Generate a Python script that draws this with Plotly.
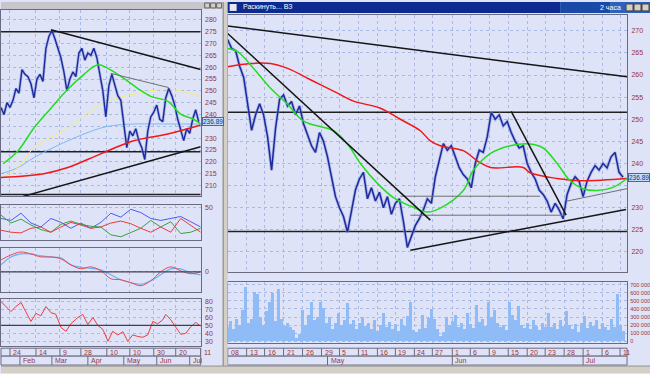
import numpy as np
import plotly.graph_objects as go

W, H = 650, 374

# ---------------- data ----------------
# Left window (daily): close prices sampled per bar slot
left_price = [243, 240, 245, 243, 246, 251, 249, 259, 257, 256, 253, 247, 255, 257, 254, 268, 273,
              275.5, 272, 268, 264, 258, 250, 255, 258, 256, 266, 268, 263, 266, 265, 268, 264, 257,
              250, 239, 252, 257, 252, 248, 246, 236, 226, 233, 231, 234, 229, 226, 221, 233, 239,
              241, 244, 238, 237, 247, 251, 248, 244, 238, 233, 229, 234, 232, 238, 242, 236.9]
left_green_x = [0.7, 5.7, 11, 16.7, 22.3, 27.7, 31, 32.7, 35.7, 41, 45.7, 50, 55.7, 60, 64.3, 66.7]
left_green = [219.2, 224.7, 234.3, 242.7, 250.7, 257, 260.3, 261, 259.5, 255.3, 251, 247.7, 245.6, 240.2, 238, 236]
left_slow_x = [0, 5.7, 11, 22.3, 33.3, 39, 44.3, 55.7, 66.7]
left_yellow = [213, 217.6, 226, 234.3, 244.3, 247, 248.6, 250.7, 247.7]
left_lblue = [215, 217.6, 221.8, 228.9, 234.3, 235.6, 236, 236, 236]
left_red_x = [0, 14.3, 22.3, 33.3, 44.3, 55.7, 66.7]
left_red = [213.4, 215, 217.6, 223.4, 228.9, 231.8, 235.6]
left_levels = [275.0, 224.3, 206.2]
left_trend_black = [((16.67, 275.8), (66.67, 259.0)), ((7.33, 205.4), (66.67, 226.4))]
left_trend_gray = [((36.67, 257.4), (56.0, 251.4))]

# left indicators (21 samples across the window)
dmi_blue = [33, 30, 41, 26, 20, 33, 27, 18, 26, 18, 27, 41, 35, 47, 42, 33, 30, 33, 36, 28, 20]
dmi_green = [38, 26, 32, 23, 16, 12, 24, 29, 24, 21, 20, 8, 5, 11, 18, 30, 20, 28, 10, 12, 18]
dmi_red = [15, 12, 11, 18, 20, 12, 20, 27, 23, 18, 20, 26, 29, 25, 18, 12, 20, 12, 33, 23, 12]
macd_red = [12, 17, 20, 18, 15, 15, 13, 7, 3, 5, 1, -7, -8, -11, -14, -9, 0, 5, 1, -2, 0]
macd_blue = [7, 15, 18, 18, 16, 15, 14, 7, 4.5, 3.5, 2, -3, -8, -11, -12.5, -9, -3, 3, 3, -1, -3]
rsi_x = [0, 1.7, 3.3, 5, 6.7, 8.3, 10, 11.7, 13.3, 15, 16.7, 18.3, 20, 21.7, 23.3, 25.7, 27.3, 29,
         30.7, 32.3, 34, 35.7, 37.3, 39, 40.7, 42.3, 44, 45.7, 47.3, 49, 50.7, 52.3, 54, 55, 56.7,
         58.3, 60, 61.7, 63.3, 65, 66.7]
rsi = [80, 73.8, 67.5, 73.8, 78.8, 67, 55, 65, 62, 73.8, 66, 64, 47.5, 42.5, 52, 60, 63.8, 51, 60,
       50, 45, 30, 42.5, 38, 42, 30, 38, 36, 35, 38, 55, 52, 57, 63.8, 57, 48, 38.8, 40, 48, 53.8, 48.8]

left_day_pos = [3, 11.67, 19.67, 26.67, 35.33, 43, 51, 58.33, 66.67]
left_day_lbl = ["24", "14", "9", "28", "10", "10", "30", "20", "11"]
left_mon_pos = [6.33, 17, 29, 41, 52, 63]
left_mon_lbl = ["Feb", "Mar", "Apr", "May", "Jun", "Jul"]

# Right window (2-hour bars)
right_price = [268.0, 266.0, 265.5, 262.0, 259.5, 254.0, 247.5, 251.0, 253.5, 251.0, 246.0, 238.5,
               248.0, 254.5, 255.5, 253.0, 254.0, 251.0, 253.0, 249.0, 246.5, 244.0, 242.5, 247.0,
               245.0, 241.5, 237.0, 232.5, 230.0, 228.0, 224.5, 229.0, 234.0, 236.5, 238.0, 232.0,
               234.5, 231.5, 233.5, 230.0, 232.5, 228.5, 231.0, 232.0, 227.0, 221.0, 223.5, 226.0,
               227.5, 229.5, 232.0, 231.0, 237.0, 241.0, 244.5, 243.0, 244.0, 241.5, 239.0, 237.5,
               236.5, 234.5, 240.0, 243.0, 242.5, 246.0, 251.5, 250.0, 251.0, 248.5, 249.5, 247.0,
               245.0, 243.5, 244.0, 240.0, 238.0, 236.5, 234.0, 233.0, 231.5, 229.0, 231.0, 229.5,
               227.5, 233.0, 235.5, 237.0, 236.0, 232.5, 236.0, 238.0, 239.5, 238.5, 240.0, 239.0,
               241.5, 242.5, 238.0, 236.9]
right_red_x = [0, 5.75, 10.75, 15, 21.5, 27.5, 31.5, 38.25, 43.25, 48.25, 50.75, 53.25, 59, 62.5,
               65.75, 74, 75.75, 82.5, 88.25, 100]
right_red = [261.9, 262.6, 262.6, 261.5, 258.6, 255.9, 254.1, 252.5, 250.0, 247.4, 245.1, 244.0,
             242.9, 240.6, 239.1, 239.1, 237.9, 236.6, 236.1, 236.6]
right_green_x = [0, 2.5, 6.5, 10.75, 15, 19, 26.5, 30, 33.25, 37.5, 41.5, 46.5, 50, 53.25, 59, 61.5,
                 65.75, 70.75, 75.75, 79, 82.5, 85.75, 89, 92.5, 96.5, 100]
right_green = [266.0, 265.3, 261.5, 257.0, 253.4, 249.6, 247.4, 244.4, 240.0, 235.5, 232.3, 230.1,
               229.0, 229.9, 233.9, 238.4, 242.2, 244.0, 244.4, 243.5, 240.0, 236.1, 234.3, 233.9,
               234.6, 236.6]
right_levels = [251.6, 224.6]
right_trend_black = [((0, 271.1), (100, 259.6)), ((0, 269.4), (50.75, 227.2)),
                     ((45.75, 220.4), (99.75, 229.6)), ((71, 251.8), (84.75, 228.3))]
right_trend_gray = [((43.25, 232.6), (78.25, 232.6)), ((45.75, 228.3), (84.5, 228.3)),
                    ((85, 231.5), (100, 234.3))]
right_volume_k = [180, 250, 150, 270, 200, 390, 670, 230, 270, 610, 590, 300, 200, 380, 480, 600, 250,
                  650, 270, 190, 230, 180, 140, 40, 90, 390, 200, 320, 480, 260, 300, 490, 410, 220,
                  300, 150, 230, 350, 200, 260, 470, 210, 260, 150, 230, 300, 190, 220, 150, 260, 130,
                  200, 350, 180, 240, 150, 210, 130, 280, 190, 310, 480, 140, 110, 150, 320, 160, 290,
                  400, 270, 150, 60, 110, 300, 200, 250, 330, 180, 220, 150, 350, 210, 160, 450, 240,
                  270, 190, 490, 300, 390, 230, 170, 200, 140, 490, 330, 260, 440, 200, 160, 230, 150,
                  260, 190, 140, 230, 180, 345, 170, 230, 150, 260, 190, 380, 200, 150, 210, 120, 230,
                  310, 160, 240, 190, 260, 150, 220, 170, 140, 270, 180, 580, 200, 130]
right_day_pos = [0, 4.75, 9.25, 14, 18.75, 23.5, 28, 32.75, 37.5, 42, 46.75, 51.25, 56.25, 60.75,
                 65.5, 70.25, 75, 79.5, 84.25, 89, 93.75, 98.25]
right_day_lbl = ["08", "13", "16", "21", "26", "29", "5", "11", "16", "19", "24", "27", "1", "6",
                 "9", "15", "20", "23", "28", "1", "6", "11"]
right_mon_pos = [25, 56.25, 89]
right_mon_lbl = ["May", "Jun", "Jul"]
price_ticks_left = list(range(210, 281, 5))
price_ticks_right = list(range(220, 271, 5))
rsi_ticks = [30, 40, 50, 60, 70, 80]
vol_ticks = [0, 100000, 200000, 300000, 400000, 500000, 600000, 700000]
vol_ticktext = ["0", "100 000", "200 000", "300 000", "400 000", "500 000", "600 000", "700 000"]
last_price = 236.89

# ---------------- styling helpers ----------------
BG = "#dfe3f7"
GRID = "#a9b9e3"
FRAME = "#6a6a82"
TICK = "#9a3434"
FONT = "Liberation Sans"


def dom_y(top, bottom):
    return [1 - bottom / H, 1 - top / H]


def dom_x(left, right):
    return [left / W, right / W]


def xax(domain, rng, tickvals, anchor):
    return dict(domain=domain, range=rng, anchor=anchor, tickvals=tickvals, showticklabels=False,
                ticks='', showgrid=True, gridcolor=GRID, griddash='dot', gridwidth=1, zeroline=False,
                showline=True, mirror=True, linecolor=FRAME, linewidth=1, fixedrange=True)


def yax(domain, rng, tickvals, anchor, ticktext=None, size=7, standoff=2):
    d = dict(domain=domain, range=rng, anchor=anchor, side='right', tickvals=tickvals, ticks='',
             tickfont=dict(size=size, color=TICK, family=FONT), showgrid=True, gridcolor=GRID,
             griddash='dot', zeroline=False, showline=True, mirror=True, linecolor=FRAME,
             linewidth=1, ticklabelstandoff=standoff, fixedrange=True)
    if ticktext is not None:
        d['ticktext'] = ticktext
    return d


def price_ticktext(ticks, hidden):
    # the last-price tag covers the label nearest to it
    return ["" if t == hidden else str(t) for t in ticks]


def line(x, y, color, width, xa, ya, shape='linear', opacity=1.0):
    return go.Scatter(x=x, y=y, mode='lines', line=dict(color=color, width=width, shape=shape),
                      xaxis=xa, yaxis=ya, hoverinfo='skip', opacity=opacity, showlegend=False)


def seg_trace(segs, color, width, xa, ya):
    xs, ys = [], []
    for (x0, y0), (x1, y1) in segs:
        xs += [x0, x1, None]
        ys += [y0, y1, None]
    return line(xs, ys, color, width, xa, ya)


def level_trace(levels, x0, x1, color, width, xa, ya):
    return seg_trace([((x0, v), (x1, v)) for v in levels], color, width, xa, ya)


fig = go.Figure()

# ---------------- left window ----------------
LX = [0, 66.67]
lx = list(range(len(left_price)))
fig.add_trace(level_trace(left_levels, LX[0], LX[1], "#202020", 1.5, 'x', 'y'))
fig.add_trace(line(left_slow_x, left_lblue, "#7ab8f0", 1, 'x', 'y', 'spline'))
fig.add_trace(line(left_slow_x, left_yellow, "#f2ee78", 1, 'x', 'y', 'spline'))
fig.add_trace(line(lx, left_price, "#8797e0", 3.0, 'x', 'y', opacity=0.55))
fig.add_trace(line(lx, left_price, "#1c2a9c", 1.4, 'x', 'y'))
fig.add_trace(line(left_red_x, left_red, "#f01818", 1.5, 'x', 'y', 'spline'))
fig.add_trace(line(left_green_x, left_green, "#22dd22", 1.5, 'x', 'y', 'spline'))
fig.add_trace(seg_trace(left_trend_gray, "#707070", 1, 'x', 'y'))
fig.add_trace(seg_trace(left_trend_black, "#151515", 1.5, 'x', 'y'))

ind_x = np.arange(len(dmi_blue)) * (LX[1] / (len(dmi_blue) - 1))
fig.add_trace(line(ind_x, dmi_blue, "#4a5cf0", 1, 'x2', 'y2'))
fig.add_trace(line(ind_x, dmi_green, "#3aa040", 1, 'x2', 'y2'))
fig.add_trace(line(ind_x, dmi_red, "#f03a3a", 1, 'x2', 'y2'))
fig.add_trace(line(ind_x, macd_blue, "#6cb0f4", 1.2, 'x3', 'y3', 'spline'))
fig.add_trace(line(ind_x, macd_red, "#f04848", 1, 'x3', 'y3', 'spline'))
fig.add_trace(line(rsi_x, rsi, "#f03c3c", 1, 'x4', 'y4'))

# ---------------- right window ----------------
RX = [0, 100]
rx = list(range(len(right_price)))
vx = np.arange(len(right_volume_k)) * 0.75
fig.add_trace(level_trace(right_levels, RX[0], RX[1], "#202020", 1.5, 'x5', 'y5'))
fig.add_trace(line(rx, right_price, "#8797e0", 3.2, 'x5', 'y5', opacity=0.55))
fig.add_trace(line(rx, right_price, "#1c2a9c", 1.5, 'x5', 'y5'))
fig.add_trace(line(right_red_x, right_red, "#f01818", 1.5, 'x5', 'y5', 'spline'))
fig.add_trace(line(right_green_x, right_green, "#22dd22", 1.5, 'x5', 'y5', 'spline'))
fig.add_trace(seg_trace(right_trend_gray, "#707070", 1, 'x5', 'y5'))
fig.add_trace(seg_trace(right_trend_black, "#151515", 1.5, 'x5', 'y5'))
fig.add_trace(go.Bar(x=vx, y=[v * 1000 for v in right_volume_k], width=0.75,
                     marker=dict(color="#8fbcf6", line=dict(width=0)), xaxis='x6', yaxis='y6',
                     hoverinfo='skip', showlegend=False))

LDOM = dom_x(0, 200)
RDOM = dom_x(227, 627)
fig.update_layout(
    width=W, height=H, margin=dict(l=0, r=0, t=0, b=0), paper_bgcolor=BG, plot_bgcolor=BG,
    showlegend=False, bargap=0, hovermode=False,
    font=dict(family=FONT, size=7, color=TICK),
    xaxis=xax(LDOM, LX, left_day_pos, 'y'),
    yaxis=yax(dom_y(8, 196), [205.4, 284.2], price_ticks_left, 'x',
              price_ticktext(price_ticks_left, 235)),
    xaxis2=xax(LDOM, LX, left_day_pos, 'y2'),
    yaxis2=yax(dom_y(205, 240), [0, 53], [50], 'x2'),
    xaxis3=xax(LDOM, LX, left_day_pos, 'y3'),
    yaxis3=yax(dom_y(248, 292), [-20, 24], [0], 'x3'),
    xaxis4=xax(LDOM, LX, left_day_pos, 'y4'),
    yaxis4=yax(dom_y(299, 347), [23.75, 83.75], rsi_ticks, 'x4'),
    xaxis5=xax(RDOM, RX, right_day_pos, 'y5'),
    yaxis5=yax(dom_y(13, 272), [215.5, 273.6], price_ticks_right, 'x5',
               price_ticktext(price_ticks_right, 235)),
    xaxis6=xax(RDOM, RX, right_day_pos, 'y6'),
    yaxis6=yax(dom_y(282, 344), [-25000, 737000], vol_ticks, 'x6', vol_ticktext, size=5.5,
               standoff=1),
)

shapes = []
annos = []


def prect(x0, y0, x1, y1, fill, line_color=None, lw=1, layer='above'):
    shapes.append(dict(type='rect', xref='paper', yref='paper', x0=x0 / W, x1=x1 / W,
                       y0=1 - y1 / H, y1=1 - y0 / H, fillcolor=fill,
                       line=dict(color=line_color or fill, width=lw if line_color else 0),
                       layer=layer))


# zero / mid lines of oscillators
shapes.append(dict(type='line', xref='x3 domain', yref='y3', x0=0, x1=1, y0=0, y1=0,
                   line=dict(color="#404050", width=1.2)))
shapes.append(dict(type='line', xref='x4 domain', yref='y4', x0=0, x1=1, y0=50, y1=50,
                   line=dict(color="#404050", width=1.2)))


def date_rows(xref, x0px, x1px, day_pos, day_lbl, mon_pos, mon_lbl, ytop, ymid, ybot):
    prect(x0px, ytop, x1px, ymid, BG, FRAME)
    prect(x0px, ymid, x1px, ybot, BG, FRAME)
    for p, t in zip(day_pos, day_lbl):
        shapes.append(dict(type='line', xref=xref, yref='paper', x0=p, x1=p,
                           y0=1 - ymid / H, y1=1 - ytop / H, line=dict(color=FRAME, width=1)))
        annos.append(dict(x=p, xref=xref, y=1 - (ytop + ymid) / 2 / H, yref='paper', text=t,
                          showarrow=False, xanchor='left', yanchor='middle', xshift=1,
                          font=dict(size=7, color=TICK, family=FONT)))
    for p, t in zip(mon_pos, mon_lbl):
        shapes.append(dict(type='line', xref=xref, yref='paper', x0=p, x1=p,
                           y0=1 - ybot / H, y1=1 - ymid / H, line=dict(color=FRAME, width=1)))
        annos.append(dict(x=p, xref=xref, y=1 - (ymid + ybot) / 2 / H, yref='paper', text=t,
                          showarrow=False, xanchor='left', yanchor='middle', xshift=1,
                          font=dict(size=7, color=TICK, family=FONT)))


date_rows('x4', 0, 200, left_day_pos, left_day_lbl, left_mon_pos, left_mon_lbl, 349, 357, 366)
date_rows('x6', 227, 627, right_day_pos, right_day_lbl, right_mon_pos, right_mon_lbl, 349, 357, 366)

# window chrome
prect(0, 0, 222, 7, "#c6c6cc")
for bx in (204, 210, 216):
    prect(bx, 1, bx + 5, 6, "#d4d0c8", "#606060")
prect(222, 0, 227, 374, "#d4d0c8")
shapes.append(dict(type='line', xref='paper', yref='paper', x0=222.5 / W, x1=222.5 / W, y0=0, y1=1,
                   line=dict(color="#808080", width=1)))
prect(227, 0, 560, 11, "#0c2a90")
prect(560, 0, 610, 11, "#1a4aa8")
prect(610, 0, 650, 11, "#2a62bc")
prect(229, 2, 236, 9, "#e8e8f0")
for bx in (626, 634, 642):
    prect(bx, 2, bx + 7, 9, "#d4d0c8", "#404040")
prect(0, 367, 650, 374, "#d4d0c8")
shapes.append(dict(type='line', xref='paper', yref='paper', x0=0, x1=1, y0=1 - 367 / H,
                   y1=1 - 367 / H, line=dict(color="#909090", width=1)))

annos.append(dict(x=240 / W, y=1 - 5.5 / H, xref='paper', yref='paper', text="Раскинуть... ВЗ",
                  showarrow=False, xanchor='left', yanchor='middle',
                  font=dict(size=7, color="white", family=FONT)))
annos.append(dict(x=623 / W, y=1 - 5.5 / H, xref='paper', yref='paper', text="2 часа",
                  showarrow=False, xanchor='right', yanchor='middle',
                  font=dict(size=7, color="white", family=FONT)))

# last price tags
annos.append(dict(x=201 / W, xref='paper', y=last_price, yref='y', text=f"{last_price:.2f}",
                  showarrow=False, xanchor='left', yanchor='middle', bgcolor="#c4dcf8",
                  bordercolor="#4a64a8", borderwidth=1, borderpad=0,
                  font=dict(size=6.5, color="#203070", family=FONT)))
annos.append(dict(x=628 / W, xref='paper', y=last_price, yref='y5', text=f"{last_price:.2f}",
                  showarrow=False, xanchor='left', yanchor='middle', bgcolor="#c4dcf8",
                  bordercolor="#4a64a8", borderwidth=1, borderpad=0,
                  font=dict(size=6.5, color="#203070", family=FONT)))

fig.update_layout(shapes=shapes, annotations=annos)
# remove the browser's default 8px body margin so the 650x374 figure fills the window exactly
fig.write_html("out.html",
               config={"displayModeBar": False, "staticPlot": True},
               post_script="document.body.style.margin='0';document.body.style.overflow='hidden';")
